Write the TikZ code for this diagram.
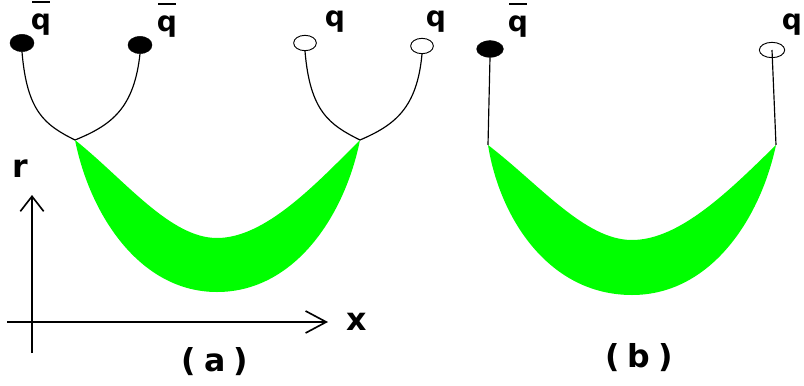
\documentclass[tikz,border=0pt]{standalone}
\usepackage{fontspec}
\setmainfont{DejaVu Sans}
\usetikzlibrary{shapes.geometric,arrows.meta}
\definecolor{blobgreen}{RGB}{0,255,0}
\newcommand{\qbarsym}{\ooalign{q\cr\hidewidth\rule[0.92em]{0.62em}{0.075em}\hidewidth\cr}}
\tikzset{
  fullq/.style={ellipse, fill=black, draw=black, minimum width=0.72cm, minimum height=0.52cm, inner sep=0pt},
  openq/.style={ellipse, fill=white, draw=black, line width=0.8pt, minimum width=0.68cm, minimum height=0.46cm, inner sep=0pt},
  string/.style={line width=1pt},
  blob/.style={fill=blobgreen, draw=none},
  axis/.style={line width=1.4pt},
  qlabel/.style={font=\fontsize{24}{26}\selectfont\bfseries, inner sep=0pt},
  biglabel/.style={font=\fontsize{27}{29}\selectfont\bfseries}
}
\begin{document}
\begin{tikzpicture}[x=0.03cm, y=-0.03cm]
  \useasboundingbox (0,0) rectangle (804,385);
  % (a): two pairs of quarks joined at the ends of the tube
  \node[fullq] (qbarA) at (22,43) {};
  \node[fullq] (qbarB) at (140,45) {};
  \node[openq] (qA) at (305,43) {};
  \node[openq] (qB) at (422,46) {};
  \node[qlabel, anchor=base] (lqbarA) at (41,29) {\qbarsym};
  \node[qlabel, anchor=base] (lqbarB) at (167,31) {\qbarsym};
  \node[qlabel, anchor=base] (lqA) at (335,26) {q};
  \node[qlabel, anchor=base] (lqB) at (436,26) {q};
  \coordinate (jA) at (75,140);
  \coordinate (jB) at (360,140);
  \draw[string] (qbarA.south) .. controls (27,112) and (45,125) .. (jA);
  \draw[string] (qbarB.south) .. controls (134,108) and (112,125) .. (jA);
  \draw[string] (qA.south) .. controls (310,112) and (330,125) .. (jB);
  \draw[string] (qB.south) .. controls (417,108) and (395,125) .. (jB);
  % tube (a)
  \fill[blob] (jA) .. controls (125,180) and (170,238) .. (217,238)
    .. controls (265,238) and (315,185) .. (jB)
    .. controls (345,215) and (295,292) .. (217,292)
    .. controls (140,292) and (90,215) .. (jA) -- cycle;
  % axes
  \coordinate (xstart) at (7,322);
  \coordinate (xend) at (328,322);
  \coordinate (rstart) at (32,353);
  \coordinate (rend) at (32,195);
  \draw[axis, -{Straight Barb[length=0.62cm, width=0.66cm]}] (xstart) -- (xend);
  \draw[axis, -{Straight Barb[length=0.45cm, width=0.7cm]}] (rstart) -- (rend);
  \node[biglabel] (xlab) at (357,322) {x};
  \node[biglabel] (rlab) at (20,169) {r};
  \node[biglabel] (capA) at (215,362) {(\hspace{0.25em}a\hspace{0.25em})};
  % (b): one quark pair on a single tube
  \node[fullq, minimum width=0.8cm, minimum height=0.5cm] (qbarC) at (490,49) {};
  \node[openq, minimum width=0.76cm, minimum height=0.46cm] (qC) at (772,50) {};
  \node[qlabel, anchor=base] (lqbarC) at (518,31) {\qbarsym};
  \node[qlabel, anchor=base] (lqC) at (792,29) {q};
  \coordinate (jC) at (488,145);
  \coordinate (jD) at (776,145);
  \draw[string] (qbarC.south) -- (jC);
  \draw[string] (qC.center) -- (jD);
  % tube (b)
  \fill[blob] (jC) .. controls (540,185) and (585,240) .. (632,240)
    .. controls (680,240) and (730,190) .. (jD)
    .. controls (760,220) and (710,295) .. (632,295)
    .. controls (550,295) and (500,220) .. (jC) -- cycle;
  \node[biglabel] (capB) at (639,358) {(\hspace{0.25em}b\hspace{0.25em})};
\end{tikzpicture}
\end{document}
